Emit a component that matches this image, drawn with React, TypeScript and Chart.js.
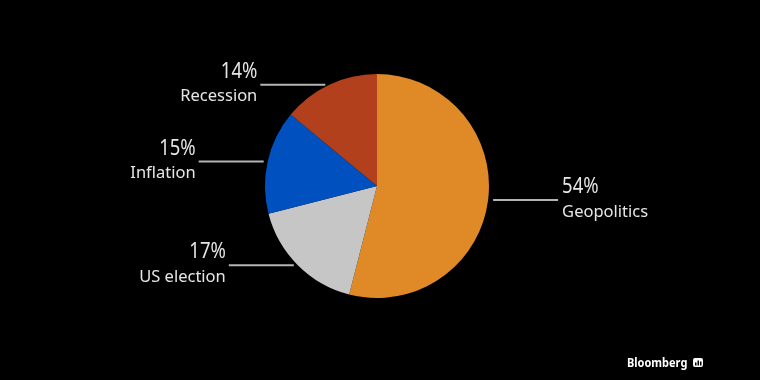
import React, { useEffect, useRef } from "react";
import { Chart, registerables } from "chart.js";

Chart.register(...registerables);

const categories = ["Geopolitics", "US election", "Inflation", "Recession"];
const shares = [54, 17, 15, 14];
const sliceColors = ["#DF8A27", "#C6C6C6", "#0051BF", "#B2401C"];
const sources = "Bloomberg";

const FONT = "'Noto Sans', 'Open Sans', sans-serif";

function scaledText(ctx: any, text: string, x: number, y: number, sx: number, align: "left" | "right") {
  ctx.save();
  ctx.translate(x, y);
  ctx.scale(sx, 1);
  ctx.textAlign = align;
  ctx.fillText(text, 0, 0);
  ctx.restore();
}

const leaderPlugin = {
  id: "leaders",
  afterDatasetsDraw(chart: any) {
    const ctx = chart.ctx;
    const meta = chart.getDatasetMeta(0);
    const total = shares.reduce((a, b) => a + b, 0);
    meta.data.forEach((arc: any, i: number) => {
      const mid = (arc.startAngle + arc.endAngle) / 2;
      const r = arc.outerRadius;
      const right = Math.cos(mid) >= 0;
      const py = arc.y + Math.sin(mid) * r;
      const px = arc.x + Math.cos(mid) * r + (right ? 5 : -4);
      const len = 65;
      const ex = right ? px + len : px - len;
      ctx.save();
      ctx.strokeStyle = "#b4b4b4";
      ctx.lineWidth = 2;
      ctx.beginPath();
      ctx.moveTo(px, py);
      ctx.lineTo(ex, py);
      ctx.stroke();
      const tx = right ? ex + 4 : ex - 3;
      const align = right ? "left" : "right";
      ctx.textBaseline = "middle";
      ctx.fillStyle = "#e6e6e6";
      ctx.font = `21px ${FONT}`;
      scaledText(ctx, `${Math.round((shares[i] / total) * 100)}%`, tx, py - 13, 0.88, align);
      ctx.font = `16.5px ${FONT}`;
      scaledText(ctx, categories[i], tx, py + 12, 1, align);
      ctx.restore();
    });
    // branding
    ctx.save();
    ctx.fillStyle = "#ffffff";
    ctx.font = `bold 12.5px ${FONT}`;
    ctx.textBaseline = "middle";
    scaledText(ctx, sources, 627, 363, 0.88, "left");
    const bx = 693, by = 358, bw = 10, bh = 9;
    ctx.beginPath();
    ctx.roundRect(bx, by, bw, bh, 2);
    ctx.fill();
    ctx.fillStyle = "#000";
    ctx.fillRect(bx + 2, by + 4.5, 1.5, 3);
    ctx.fillRect(bx + 4.5, by + 2.5, 1.5, 5);
    ctx.fillRect(bx + 7, by + 3.5, 1.5, 4);
    ctx.restore();
  },
};

export default function App() {
  const ref = useRef<HTMLCanvasElement>(null);
  useEffect(() => {
    if (!ref.current) return;
    const chart = new Chart(ref.current, {
      type: "pie",
      data: {
        labels: categories,
        datasets: [
          {
            data: shares,
            backgroundColor: sliceColors,
            borderWidth: 0,
          },
        ],
      },
      options: {
        animation: false,
        responsive: false,
        maintainAspectRatio: false,
        layout: { padding: { top: 74, bottom: 82, left: 200, right: 206 } },
        plugins: {
          legend: { display: false },
          tooltip: { enabled: false },
        },
      },
      plugins: [leaderPlugin],
    });
    return () => chart.destroy();
  }, []);
  return (
    <div style={{ position: "fixed", left: 0, top: 0, width: 760, height: 380, background: "#000" }}>
      <canvas ref={ref} width={760} height={380} style={{ display: "block" }} />
    </div>
  );
}
